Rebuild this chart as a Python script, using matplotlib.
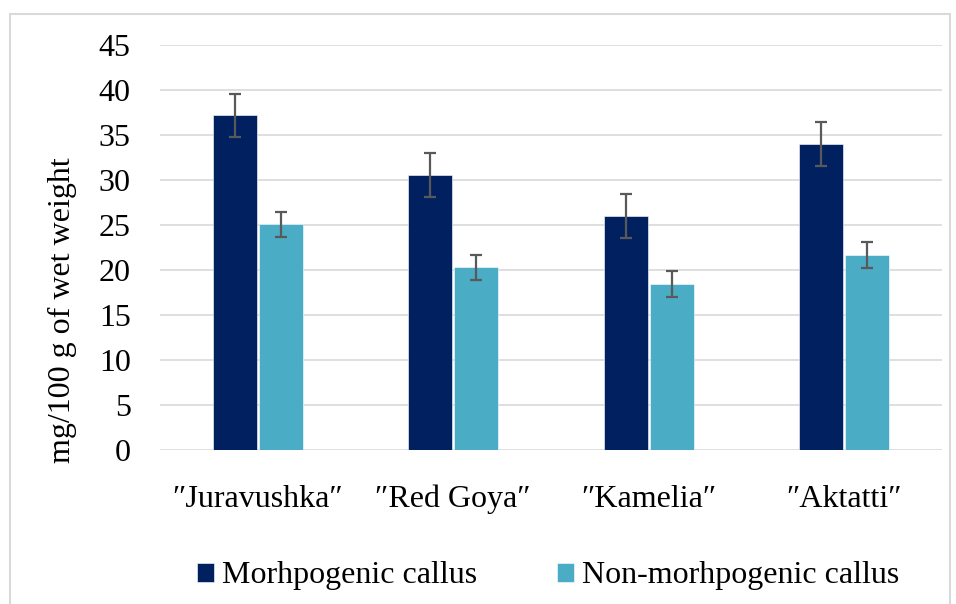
import numpy as np
import matplotlib.pyplot as plt
from matplotlib.patches import Rectangle

plt.rcParams['font.family'] = ['Liberation Serif', 'DejaVu Serif']

cultivars = ["″Juravushka″", "″Red Goya″", "″Kamelia″", "″Aktatti″"]
morph = [37.2, 30.6, 26.0, 34.0]
morph_err = [2.4, 2.45, 2.4, 2.4]
nonmorph = [25.1, 20.3, 18.4, 21.7]
nonmorph_err = [1.4, 1.4, 1.45, 1.45]

c_morph = "#002060"
c_non = "#4BACC6"
c_err = "#595959"
fs = 23

fig = plt.figure(figsize=(9.56, 6.04), dpi=100)
ax = fig.add_axes([160/956, 1-450/604, 782/956, 405/604])

# outer chart border
fig.patches.append(Rectangle((10/956, -0.05), 940/956, 1.05-14/604, transform=fig.transFigure,
                             fill=False, edgecolor="#D9D9D9", linewidth=1.5))

x = np.arange(len(cultivars))
w = 0.225
ax.bar(x - 0.117, morph, w, color=c_morph, label="Morhpogenic callus", zorder=2,
       edgecolor="white", linewidth=0.4)
ax.bar(x + 0.117, nonmorph, w, color=c_non, label="Non-morhpogenic callus", zorder=2,
       edgecolor="white", linewidth=0.4)
ax.errorbar(x - 0.117, morph, yerr=morph_err, fmt="none", ecolor=c_err, elinewidth=1.6,
            capsize=4.5, capthick=1.6, zorder=3)
ax.errorbar(x + 0.117, nonmorph, yerr=nonmorph_err, fmt="none", ecolor=c_err, elinewidth=1.6,
            capsize=4.5, capthick=1.6, zorder=3)

ax.set_xlim(-0.5, 3.5)
ax.set_ylim(0, 45)
ax.set_yticks(np.arange(0, 46, 5))
ax.set_xticks(x)
ax.set_xticklabels(cultivars)
ax.grid(axis="y", color="#D9D9D9", linewidth=1.2, zorder=0)
ax.set_axisbelow(True)
for s in ax.spines.values():
    s.set_visible(False)
ax.tick_params(axis="y", length=0, pad=21, labelsize=fs)
ax.tick_params(axis="x", length=0, pad=25, labelsize=fs)
ax.set_ylabel("mg/100 g of wet weight", fontsize=fs)
ax.yaxis.set_label_coords(-0.106, 0.346)

fig.legend(loc="center", bbox_to_anchor=(548/956, 1-576/604), ncol=2, frameon=False,
           fontsize=fs, handlelength=0.53, handleheight=0.53, handletextpad=0.25,
           columnspacing=2.5)

fig.savefig("out.png", dpi=100)
